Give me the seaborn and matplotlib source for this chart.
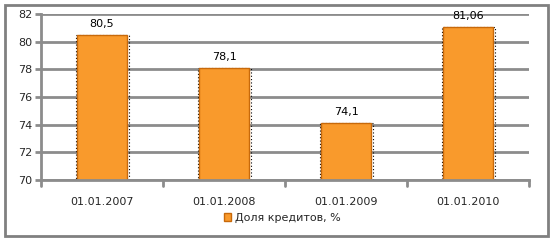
import matplotlib
matplotlib.use("Agg")
import matplotlib.pyplot as plt
import seaborn as sns
import pandas as pd
from matplotlib.patches import Rectangle, Patch

categories = ["01.01.2007", "01.01.2008", "01.01.2009", "01.01.2010"]
values = [80.5, 78.1, 74.1, 81.06]
value_labels = ["80,5", "78,1", "74,1", "81,06"]
series_name = "Доля кредитов, %"
yticks = [70, 72, 74, 76, 78, 80, 82]

sns.set_theme(style="white")
plt.rcParams['font.family'] = ['DejaVu Sans']

df = pd.DataFrame({"cat": categories, "val": values})

fig = plt.figure(figsize=(5.53, 2.43), dpi=100)
fig.patch.set_facecolor("white")
fig.patches.append(Rectangle((5/553, 1 - 236/243), 543/553, 231/243, transform=fig.transFigure,
                             fill=False, edgecolor="#808080", linewidth=2, zorder=0))
ax = fig.add_axes([41/553, 1 - 180/243, 488/553, 166/243])

ax.set_ylim(70, 82)
ax.set_xlim(-0.5, 3.5)
for t in yticks:
    ax.axhline(t, color="#8c8c8c", linewidth=2, zorder=0)

sns.barplot(data=df, x="cat", y="val", ax=ax, color="#F99A2C", width=0.41,
            edgecolor="#C8690A", linewidth=1, saturation=1, zorder=2)
for p in ax.patches:
    x0 = p.get_x(); w = p.get_width(); h = p.get_height()
    ax.add_patch(Rectangle((x0 - 0.005, 70), w + 0.02, h - 70, fill=False, edgecolor="black",
                           linestyle=(0, (1, 2)), linewidth=0.8, zorder=1))

for i, (v, lab) in enumerate(zip(values, value_labels)):
    ax.text(i, v + 0.45, lab, ha="center", va="bottom", fontsize=8, color="black")

ax.set_yticks(yticks)
ax.set_yticklabels([str(t) for t in yticks], fontsize=8)
ax.set_xticks(range(len(categories)))
ax.set_xticklabels(categories, fontsize=8)
ax.tick_params(axis="x", length=0, pad=12)
ax.tick_params(axis="y", length=4, width=2, color="#8c8c8c", pad=2, left=True)
for x in [-0.5, 0.5, 1.5, 2.5, 3.5]:
    ax.plot([x, x], [70, 69.6], color="#8c8c8c", linewidth=2, clip_on=False, zorder=3)

for s in ["top", "right"]:
    ax.spines[s].set_visible(False)
ax.spines["left"].set_color("#8c8c8c"); ax.spines["left"].set_linewidth(2)
ax.spines["bottom"].set_color("#8c8c8c"); ax.spines["bottom"].set_linewidth(2)
ax.set_xlabel(""); ax.set_ylabel("")

handle = Patch(facecolor="#F99A2C", edgecolor="#C8690A")
fig.legend([handle], [series_name], loc="center", bbox_to_anchor=(0.51, 1 - 218/243),
           frameon=False, fontsize=8, handlelength=0.7, handleheight=0.7, handletextpad=0.3)

fig.savefig("out.png", dpi=100)
